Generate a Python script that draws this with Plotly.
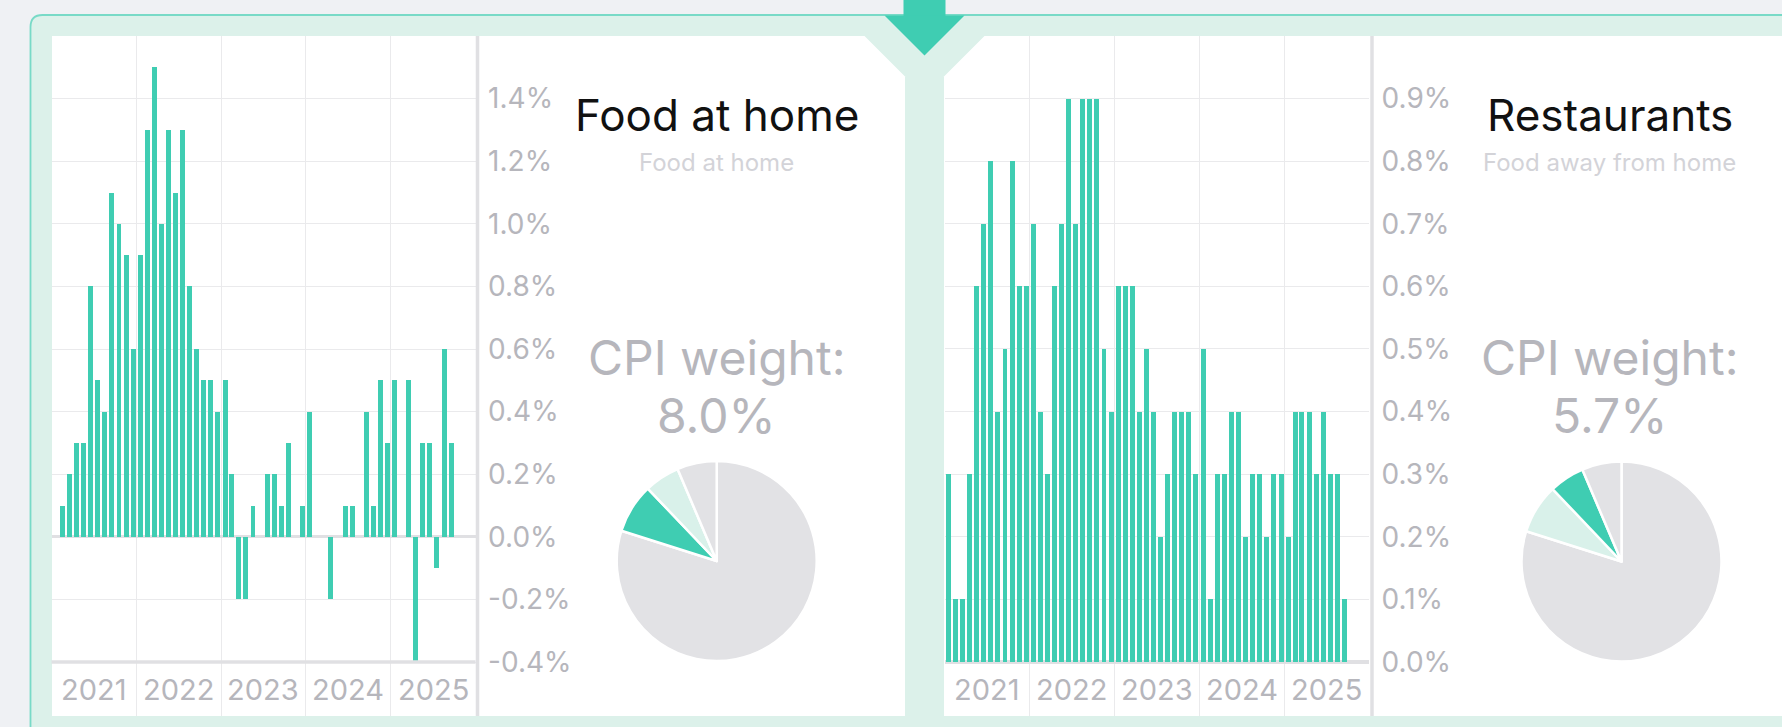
import plotly.graph_objects as go

W, H = 1782, 727
def P(px):
    return px / W
def Q(py):
    return 1 - py / H

# ---------------- data ----------------
years = [2021, 2022, 2023, 2024, 2025]
months = [f"{y}-{m:02d}-01" for y in years for m in range(1, 13)][:57]  # Jan 2021 .. Sep 2025

food_at_home = [
    0.0, 0.1, 0.2, 0.3, 0.3, 0.8, 0.5, 0.4, 1.1, 1.0, 0.9, 0.6,   # 2021
    0.9, 1.3, 1.5, 1.0, 1.3, 1.1, 1.3, 0.8, 0.6, 0.5, 0.5, 0.4,   # 2022
    0.5, 0.2, -0.2, -0.2, 0.1, 0.0, 0.2, 0.2, 0.1, 0.3, 0.0, 0.1, # 2023
    0.4, 0.0, 0.0, -0.2, 0.0, 0.1, 0.1, 0.0, 0.4, 0.1, 0.5, 0.3,  # 2024
    0.5, 0.0, 0.5, -0.4, 0.3, 0.3, -0.1, 0.6, 0.3,                # 2025
]
restaurants = [
    0.3, 0.1, 0.1, 0.3, 0.6, 0.7, 0.8, 0.4, 0.5, 0.8, 0.6, 0.6,   # 2021
    0.7, 0.4, 0.3, 0.6, 0.7, 0.9, 0.7, 0.9, 0.9, 0.9, 0.5, 0.4,   # 2022
    0.6, 0.6, 0.6, 0.4, 0.5, 0.4, 0.2, 0.3, 0.4, 0.4, 0.4, 0.3,   # 2023
    0.5, 0.1, 0.3, 0.3, 0.4, 0.4, 0.2, 0.3, 0.3, 0.2, 0.3, 0.3,   # 2024
    0.2, 0.4, 0.4, 0.4, 0.3, 0.4, 0.3, 0.3, 0.1,                  # 2025
]

left_ticks = [-0.4, -0.2, 0.0, 0.2, 0.4, 0.6, 0.8, 1.0, 1.2, 1.4]
right_ticks = [0.0, 0.1, 0.2, 0.3, 0.4, 0.5, 0.6, 0.7, 0.8, 0.9]

# pie slices, drawn clockwise from 12 o'clock
pie_labels = ["All other items", "Food at home", "Food away from home", "Other food & beverages"]
pie_weights = [79.9, 8.0, 5.7, 6.4]

panels = [
    {"title": "Food at home", "subtitle": "Food at home", "weight": "8.0%"},
    {"title": "Restaurants", "subtitle": "Food away from home", "weight": "5.7%"},
]

# ---------------- styles ----------------
TEAL = "#3fcdb2"
MINT = "#dcf1ea"
PIEMINT = "#d9f1ea"
PIEGRAY = "#e2e2e5"
GRID = "#eaeaec"
AXGRAY = "#e0e0e3"
LABEL = "#b6b6bc"
FONT = "Inter"

fig = go.Figure()

bar_width_ms = 0.70 * 30.44 * 86400000

fig.add_trace(go.Bar(x=months, y=food_at_home, xaxis="x", yaxis="y",
                     marker=dict(color=TEAL, line=dict(width=0)),
                     xperiod="M1", xperiodalignment="middle", width=bar_width_ms,
                     hoverinfo="skip", showlegend=False))
fig.add_trace(go.Bar(x=months, y=restaurants, xaxis="x2", yaxis="y2",
                     marker=dict(color=TEAL, line=dict(width=0)),
                     xperiod="M1", xperiodalignment="middle", width=bar_width_ms,
                     hoverinfo="skip", showlegend=False))

pie_r = 100
pie_centers = [(716.7, 561.0), (1621.5, 561.5)]
pie_colors = [[PIEGRAY, TEAL, PIEMINT, PIEGRAY], [PIEGRAY, PIEMINT, TEAL, PIEGRAY]]
for (cx, cy), cols in zip(pie_centers, pie_colors):
    fig.add_trace(go.Pie(labels=pie_labels, values=pie_weights, sort=False,
                         direction="clockwise", rotation=0,
                         marker=dict(colors=cols, line=dict(color="white", width=2.5)),
                         textinfo="none", hoverinfo="skip", showlegend=False,
                         domain=dict(x=[P(cx - pie_r), P(cx + pie_r)],
                                     y=[Q(cy + pie_r), Q(cy - pie_r)])))

ydom = [Q(716), Q(36)]
date_range = ["2021-01-01", "2026-01-01"]
year_starts = [f"{y}-01-01" for y in years[1:]]

common_x = dict(type="date", range=date_range, tickmode="array", tickvals=year_starts,
                showticklabels=False, showgrid=True, gridcolor=GRID, gridwidth=1.3,
                zeroline=False, showline=False, ticks="", fixedrange=True)
common_y = dict(showgrid=True, gridcolor=GRID, gridwidth=1.3, side="right",
                ticks="outside", ticklen=6, tickcolor="rgba(0,0,0,0)",
                tickfont=dict(family=FONT, size=28, color=LABEL),
                showline=False, fixedrange=True, tickmode="array")

def pct(v):
    return f"{v:.1f}%"

fig.update_layout(
    xaxis=dict(domain=[P(51.5), P(475.5)], anchor="y", **common_x),
    yaxis=dict(domain=ydom, anchor="x", range=[-0.5725, 1.6], tickvals=left_ticks,
               ticktext=[pct(v) for v in left_ticks],
               zeroline=True, zerolinecolor=AXGRAY, zerolinewidth=2.5, **common_y),
    xaxis2=dict(domain=[P(944.5), P(1369)], anchor="y2", **common_x),
    yaxis2=dict(domain=ydom, anchor="x2", range=[-0.0863, 1.0], tickvals=right_ticks,
                ticktext=[pct(v) for v in right_ticks],
                zeroline=True, zerolinecolor=AXGRAY, zerolinewidth=3.5, **common_y),
)

shapes = []
# card
r = 12
card_path = (f"M {P(30.5)},{Q(H + 20)} L {P(30.5)},{Q(15 + r)} "
             f"Q {P(30.5)},{Q(15)} {P(30.5 + r)},{Q(15)} L {P(W + 20)},{Q(15)} "
             f"L {P(W + 20)},{Q(H + 20)} Z")
shapes.append(dict(type="path", path=card_path, xref="paper", yref="paper",
                   fillcolor=MINT, line=dict(color="#78dac7", width=1.8), layer="below"))
# white panels (with diagonal corner cuts forming the mint "Y")
left_panel = (f"M {P(52)},{Q(36)} L {P(864.5)},{Q(36)} L {P(905)},{Q(76.5)} "
              f"L {P(905)},{Q(716)} L {P(52)},{Q(716)} Z")
right_panel = (f"M {P(984.5)},{Q(36)} L {P(W + 20)},{Q(36)} L {P(W + 20)},{Q(716)} "
               f"L {P(944)},{Q(716)} L {P(944)},{Q(76.5)} Z")
for pth in (left_panel, right_panel):
    shapes.append(dict(type="path", path=pth, xref="paper", yref="paper",
                       fillcolor="white", line=dict(width=0), layer="below"))
# arrow
shapes.append(dict(type="rect", xref="paper", yref="paper", x0=P(903.5), x1=P(945.5),
                   y0=Q(16.5), y1=Q(-5), fillcolor=TEAL, line=dict(width=0), layer="above"))
arrow_path = f"M {P(884.5)},{Q(15.5)} L {P(964.5)},{Q(15.5)} L {P(924.5)},{Q(55.5)} Z"
shapes.append(dict(type="path", path=arrow_path, xref="paper", yref="paper",
                   fillcolor=TEAL, line=dict(width=0), layer="above"))
# separators to the right of each bar chart
for sx in (477.5, 1372):
    shapes.append(dict(type="line", xref="paper", yref="paper", x0=P(sx), x1=P(sx),
                       y0=Q(36), y1=Q(716), line=dict(color=AXGRAY, width=3.5), layer="above"))
# bottom baseline of left chart at -0.4
shapes.append(dict(type="line", xref="x domain", yref="y", x0=0, x1=1, y0=-0.4, y1=-0.4,
                   line=dict(color=AXGRAY, width=3.5), layer="above"))

annotations = []
# year labels
for xa in ("x", "x2"):
    for y in years:
        annotations.append(dict(x=f"{y}-07-02", y=Q(689.5), xref=xa, yref="paper",
                                text=str(y), showarrow=False, xanchor="center", yanchor="middle",
                                font=dict(family=FONT, size=29, color=LABEL)))
text_centers = [716.7, 1609.5]
for pnl, cxp in zip(panels, text_centers):
    annotations.append(dict(x=P(cxp), y=Q(114.5), xref="paper", yref="paper", text=pnl["title"],
                            showarrow=False, xanchor="center", yanchor="middle",
                            font=dict(family=FONT, size=44, color="#111111")))
    annotations.append(dict(x=P(cxp), y=Q(162), xref="paper", yref="paper", text=pnl["subtitle"],
                            showarrow=False, xanchor="center", yanchor="middle",
                            font=dict(family=FONT, size=24, color="#d3d3d8")))
    annotations.append(dict(x=P(cxp), y=Q(357), xref="paper", yref="paper", text="CPI weight:",
                            showarrow=False, xanchor="center", yanchor="middle",
                            font=dict(family=FONT, size=48, color=LABEL)))
    annotations.append(dict(x=P(cxp), y=Q(415), xref="paper", yref="paper", text=pnl["weight"],
                            showarrow=False, xanchor="center", yanchor="middle",
                            font=dict(family=FONT, size=48, color=LABEL)))

fig.update_layout(
    width=W, height=H, margin=dict(l=0, r=0, t=0, b=0),
    paper_bgcolor="#eff1f4", plot_bgcolor="rgba(0,0,0,0)",
    bargap=0, shapes=shapes, annotations=annotations, showlegend=False,
    font=dict(family=FONT),
)

fig.write_html("out.html", config={"displayModeBar": False},
               post_script="document.body.style.margin='0px';"
                           "document.body.style.background='#eff1f4';"
                           "document.body.style.overflow='hidden';")
